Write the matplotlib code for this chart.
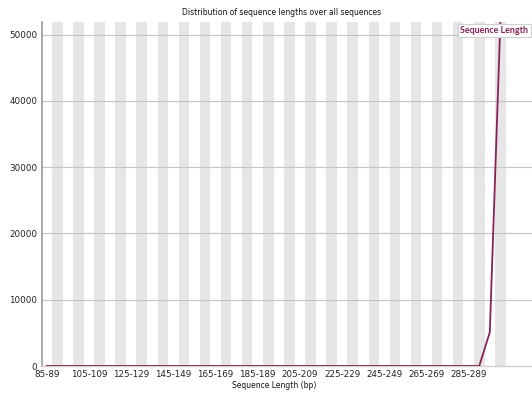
import matplotlib
matplotlib.use("Agg")
import matplotlib.pyplot as plt

categories = [
    "85-89", "90-94", "95-99", "100-104", "105-109", "110-114", "115-119",
    "120-124", "125-129", "130-134", "135-139", "140-144", "145-149",
    "150-154", "155-159", "160-164", "165-169", "170-174", "175-179",
    "180-184", "185-189", "190-194", "195-199", "200-204", "205-209",
    "210-214", "215-219", "220-224", "225-229", "230-234", "235-239",
    "240-244", "245-249", "250-254", "255-259", "260-264", "265-269",
    "270-274", "275-279", "280-284", "285-289", "290-294", "295-299",
    "300-301",
]
counts = [
    0, 0, 0, 0, 0, 0, 0, 0, 0, 0, 0, 0, 0, 0, 0, 0, 0, 0, 0, 0, 0, 0,
    0, 0, 0, 0, 0, 0, 0, 0, 0, 0, 0, 0, 0, 0, 0, 0, 0, 0, 0, 0,
    5100, 51900,
]
yticks = [0, 10000, 20000, 30000, 40000, 50000]
series_name = "Sequence Length"
title = "Distribution of sequence lengths over all sequences"
xlabel = "Sequence Length (bp)"

line_color = "#882255"
font = "DejaVu Sans"

fig = plt.figure(figsize=(5.32, 3.93), dpi=100)
ax = fig.add_axes([41.5 / 532, 1 - 366 / 393, (532 - 41.5) / 532, (366 - 22) / 393])

n = len(categories)
x = list(range(n))

# alternating stripes
for i in range(n):
    if i % 2 == 1:
        ax.axvspan(i - 0.5, i + 0.5, color="#e6e6e6", lw=0, zorder=0)

for yv in yticks:
    ax.axhline(yv, color="#c4c4c4", lw=0.8, zorder=1)

ax.plot(x, counts, color=line_color, lw=1.3, zorder=3, clip_on=True)

ax.set_xlim(-0.5, 46.0)
ax.set_ylim(0, max(counts))

ax.set_yticks(yticks)
ax.set_yticklabels([str(v) for v in yticks], fontsize=6.3, family=font, color="#222222")
ax.set_xticks(x[::4])
ax.set_xticklabels(categories[::4], fontsize=6.3, family=font, color="#222222")
ax.tick_params(axis="both", length=0, pad=3)
ax.tick_params(axis="y", pad=3)

for s in ["top", "right"]:
    ax.spines[s].set_visible(False)
ax.spines["left"].set_color("#999999")
ax.spines["left"].set_linewidth(1.2)
ax.spines["bottom"].set_color("#d0d0d0")
ax.spines["bottom"].set_linewidth(1.0)

fig.text((187 + 377) / 2 / 532, 1 - 12.5 / 393, title, ha="center", va="center", fontsize=5.5,
         family=font, color="#111111")
fig.text((233 + 316) / 2 / 532, 1 - 385 / 393, xlabel, ha="center", va="center",
         fontsize=5.5, family=font, color="#111111")

fig.text(460.5 / 532, 1 - 30.5 / 393, series_name, ha="left", va="center",
         fontsize=6.4, family="Lato", color=line_color, fontweight="bold",
         bbox=dict(boxstyle="square,pad=0.25", fc="white", ec="#d0d0d0", lw=0.8))

fig.savefig("out.png", dpi=100)
